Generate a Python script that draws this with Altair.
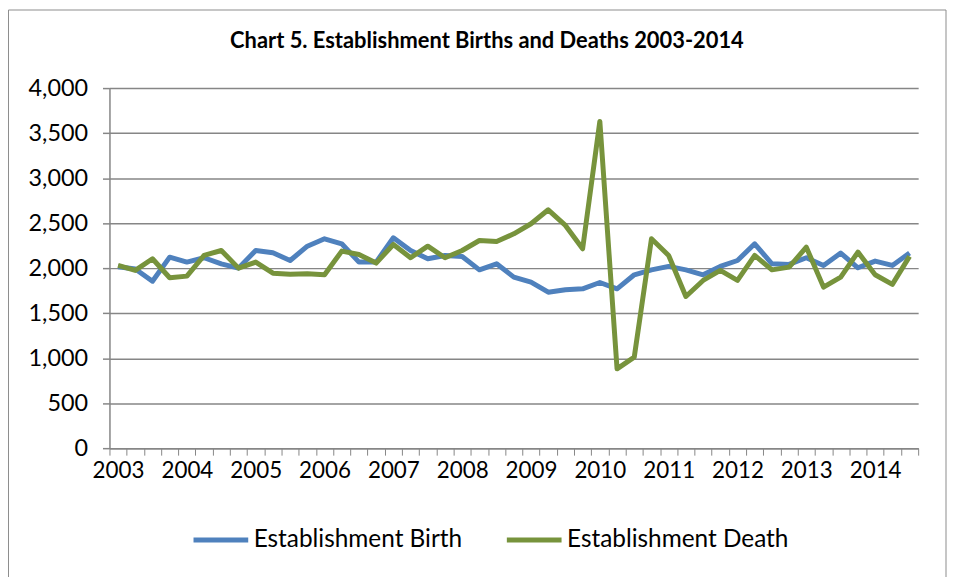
import json
import altair as alt
import pandas as pd

title_text = "Chart 5. Establishment Births and Deaths 2003-2014"
years = ["2003", "2004", "2005", "2006", "2007", "2008", "2009", "2010", "2011", "2012", "2013", "2014"]

# quarterly values, 2003 Q1 .. 2014 Q3
birth = [2015, 1990, 1855, 2122, 2067, 2115, 2048, 2000, 2196, 2170,
         2085, 2244, 2326, 2270, 2067, 2067, 2337, 2196, 2104, 2141,
         2130, 1981, 2048, 1900, 1844, 1733, 1759, 1770, 1840, 1770,
         1926, 1981, 2019, 1981, 1926, 2019, 2085, 2270, 2048, 2041,
         2115, 2030, 2167, 2004, 2078, 2030, 2167]
death = [2030, 1975, 2104, 1893, 1911, 2141, 2196, 2000, 2067, 1944,
         1933, 1937, 1926, 2189, 2152, 2056, 2263, 2115, 2244, 2115,
         2196, 2307, 2296, 2381, 2493, 2648, 2474, 2215, 3630, 881,
         1011, 2326, 2141, 1685, 1863, 1974, 1863, 2141, 1981, 2011,
         2233, 1789, 1900, 2178, 1926, 1819, 2130]
series_names = ["Establishment Birth", "Establishment Death"]
series_colors = ["#4F81BD", "#77933C"]
y_ticks = [0, 500, 1000, 1500, 2000, 2500, 3000, 3500, 4000]

n = len(birth)
idx = list(range(n))
df = pd.DataFrame({
    "idx": idx + idx,
    "value": birth + death,
    "series": [series_names[0]] * n + [series_names[1]] * n,
})

W, H = 813, 362
FONT = "Lato"
GRAY = "#868686"
label_expr = (
    "datum.value % 4 == 0 ? " + json.dumps(years) + "[floor(datum.value / 4)] : ''"
)

lines = alt.Chart(df).mark_line(strokeWidth=5, strokeJoin="round").encode(
    x=alt.X("idx:O",
            bandPosition=0.5,
            scale=alt.Scale(type="band", paddingInner=0, paddingOuter=0),
            axis=alt.Axis(labelExpr=label_expr, title=None, labelAngle=0,
                          grid=False, domainColor=GRAY, domainWidth=1.5,
                          tickBand="extent",
                          tickColor=GRAY, tickWidth=1, tickSize=7,
                          labelPadding=4, labelOverlap=False,
                          labelFont=FONT, labelFontSize=22.5,
                          labelColor="black")),
    y=alt.Y("value:Q",
            scale=alt.Scale(domain=[0, 4000], nice=False),
            axis=alt.Axis(values=y_ticks, format=",.0f", title=None,
                          grid=True, gridColor=GRAY, gridWidth=1.5,
                          domainColor=GRAY, domainWidth=1.5,
                          tickColor=GRAY, tickWidth=1.5, tickSize=7,
                          labelPadding=15, labelFont=FONT, labelFontSize=23.5,
                          labelColor="black")),
    color=alt.Color("series:N",
                    scale=alt.Scale(domain=series_names, range=series_colors),
                    legend=alt.Legend(orient="none", legendX=82, legendY=424,
                                      direction="horizontal", title=None,
                                      symbolType="stroke", symbolSize=3025,
                                      symbolStrokeWidth=5, labelFont=FONT,
                                      labelFontSize=24.5, labelColor="black",
                                      labelOffset=3, labelLimit=0,
                                      columnPadding=34, padding=0)),
    order=alt.Order("series:N"),
)

frame = alt.Chart(pd.DataFrame({"f": [0]})).mark_rect(
    filled=False, stroke="#8c8c8c", strokeWidth=1
).encode(
    x=alt.value(-101.5), x2=alt.value(841), y=alt.value(-78.5), y2=alt.value(600)
)

title = alt.Chart(pd.DataFrame({"t": [title_text]})).mark_text(
    font=FONT, fontSize=22, fontWeight="bold", color="black",
    align="center", baseline="alphabetic"
).encode(
    text="t:N", x=alt.value(379.5), y=alt.value(-40.5)
)

chart = alt.layer(frame, lines, title).properties(
    width=W, height=H,
    autosize=alt.AutoSizeParams(type="none"),
    padding={"left": 102, "top": 79, "right": 30, "bottom": 128},
    background="white",
).configure_view(strokeWidth=0)

chart.save("out.html", embed_options={"renderer": "svg", "actions": False})
